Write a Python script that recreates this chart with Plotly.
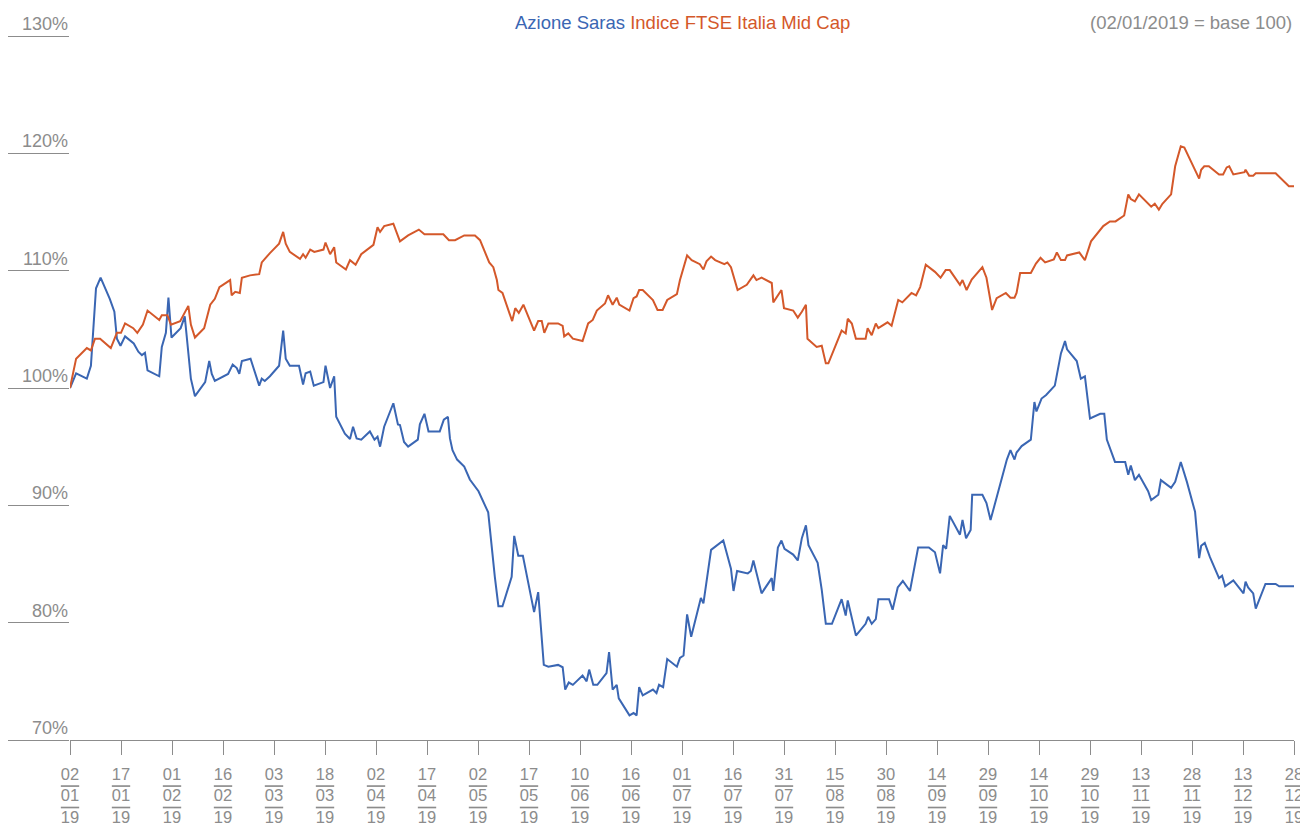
import plotly.graph_objects as go

# x is a session index: 10 sessions between two labelled ticks
TICK_DAYS = ["02", "17", "01", "16", "03", "18", "02", "17", "02", "17", "10", "16", "01",
             "16", "31", "15", "30", "14", "29", "14", "29", "13", "28", "13", "28"]
TICK_MONTHS = ["01", "01", "02", "02", "03", "03", "04", "04", "05", "05", "06", "06", "07",
               "07", "07", "08", "08", "09", "09", "10", "10", "11", "11", "12", "12"]
TICK_YEAR = "19"

Y_TICKS = [70, 80, 90, 100, 110, 120, 130]

# Azione Saras (base 100)
saras_x = [0, 1.2, 3.3, 4.1, 5.1, 6.0, 7.8, 8.7, 9.2, 9.9, 10.8, 12.5, 13.4, 14.1, 14.7, 15.2,
           17.5, 18.0, 18.8, 19.3, 19.9, 21.7, 22.5, 23.7, 24.5, 26.5, 27.3, 27.8, 28.4, 31.0,
           31.9, 32.7, 33.2, 33.7, 35.4, 37.1, 37.6, 38.2, 39.2, 41.0, 41.8, 42.3, 43.1, 44.9,
           45.7, 46.2, 47.1, 47.8, 49.7, 50.1, 51.0, 51.8, 52.2, 53.9, 54.9, 55.5, 56.2, 57.1,
           58.8, 59.7, 60.3, 60.8, 61.6, 63.4, 64.3, 64.7, 65.5, 66.3, 68.2, 68.6, 69.5, 70.3,
           72.5, 73.3, 74.1, 74.5, 75.0, 75.9, 77.3, 78.4, 80.1, 82.0, 83.3, 84.0, 84.8, 86.6,
           87.1, 87.9, 88.8, 91.0, 91.8, 92.9, 93.8, 95.7, 96.6, 97.1, 97.8, 98.6, 100.5, 101.3,
           101.8, 102.6, 103.4, 105.2, 105.7, 106.4, 107.2, 107.6, 109.7, 110.5, 111.1, 111.6,
           112.3, 114.3, 115.0, 115.5, 116.3, 117.1, 119.0, 119.6, 120.3, 121.0, 121.8, 123.7,
           124.2, 125.7, 128.1, 129.6, 130.1, 130.8, 132.9, 133.5, 134.0, 135.6, 137.6, 137.9,
           138.8, 139.5, 140.1, 141.8, 142.7, 143.5, 144.3, 144.8, 146.6, 147.4, 148.2, 149.4,
           151.3, 152.1, 152.5, 154.1, 156.0, 156.5, 157.2, 158.0, 158.5, 159.8, 160.6, 161.3,
           162.3, 163.3, 164.7, 166.3, 168.4, 169.6, 170.6, 171.2, 171.8, 172.5, 174.5, 175.0,
           175.7, 176.6, 176.9, 178.9, 179.7, 180.5, 183.7, 184.4, 185.2, 185.6, 186.6, 188.4,
           189.1, 189.5, 190.5, 191.4, 193.1, 194.3, 195.1, 195.5, 197.4, 198.2, 199.0, 200.0,
           202.0, 202.8, 203.3, 204.9, 206.9, 207.5, 208.0, 208.8, 209.6, 211.4, 212.0, 213.4,
           213.9, 215.9, 216.7, 217.8, 219.0, 220.6, 221.4, 221.8, 222.5, 223.5, 225.3, 225.9,
           226.5, 228.1, 230.1, 230.5, 231.0, 232.0, 232.5, 234.4, 236.4, 237.1, 240.0]
saras_y = [100.0, 101.25, 100.8, 101.9, 108.5, 109.4, 107.6, 106.5, 104.2, 103.6, 104.4, 103.8,
           103.1, 102.8, 103.0, 101.5, 101.0, 103.5, 104.7, 107.7, 104.3, 105.1, 106.1, 100.8,
           99.3, 100.5, 102.3, 101.2, 100.6, 101.2, 102.0, 101.7, 101.2, 102.3, 102.5, 100.2,
           100.8, 100.6, 101.0, 101.9, 104.9, 102.5, 101.9, 101.9, 100.3, 101.25, 101.4, 100.2,
           100.5, 101.9, 100.0, 101.0, 97.55, 96.1, 95.65, 96.7, 95.7, 95.6, 96.3, 95.6, 95.85,
           95.0, 96.7, 98.7, 96.9, 96.85, 95.4, 95.0, 95.6, 96.9, 97.8, 96.3, 96.3, 97.3, 97.55,
           95.7, 94.7, 93.9, 93.3, 92.2, 91.2, 89.4, 83.9, 81.4, 81.4, 83.9, 87.4, 85.7, 85.7,
           80.9, 82.6, 76.4, 76.25, 76.4, 76.2, 74.3, 74.9, 74.7, 75.5, 75.0, 76.0, 74.7, 74.7,
           75.7, 77.5, 74.3, 74.7, 73.55, 72.1, 72.3, 72.1, 74.5, 73.8, 74.3, 74.0, 74.7, 74.5,
           76.9, 76.25, 77.0, 77.2, 80.7, 78.8, 82.1, 81.65, 86.2, 87.0, 84.6, 82.7, 84.4, 84.2,
           84.4, 85.3, 82.5, 83.8, 82.7, 86.4, 87.0, 86.3, 85.8, 85.3, 87.2, 88.3, 86.6, 85.1,
           82.8, 79.9, 79.9, 82.0, 80.6, 81.9, 78.9, 79.9, 80.5, 79.9, 80.3, 82.0, 82.0, 82.0,
           81.1, 83.0, 83.55, 82.7, 86.4, 86.4, 86.0, 84.2, 86.6, 86.3, 89.1, 87.5, 88.75, 87.2,
           87.9, 90.9, 90.9, 90.2, 88.75, 93.9, 94.7, 93.9, 94.5, 95.05, 95.6, 98.8, 98.0, 99.1,
           99.4, 100.2, 102.95, 104.0, 103.3, 102.3, 100.8, 101.0, 97.4, 97.8, 97.8, 95.6, 93.7,
           93.7, 92.6, 93.4, 92.15, 92.6, 91.2, 90.45, 90.9, 92.15, 91.5, 92.0, 93.7, 92.0, 89.45,
           85.5, 86.55, 86.8, 85.6, 83.8, 84.0, 83.1, 83.6, 82.5, 83.5, 83.0, 82.5, 81.2, 83.3,
           83.3, 83.1, 83.1]

# Indice FTSE Italia Mid Cap (base 100)
ftse_x = [0, 1.2, 3.3, 4.1, 4.9, 5.9, 8.0, 9.2, 10.0, 10.8, 12.4, 13.2, 14.3, 15.2, 17.5, 18.0,
          19.1, 19.8, 21.6, 23.2, 23.7, 24.5, 26.3, 27.5, 28.4, 29.3, 31.4, 31.7, 32.4, 33.3,
          33.7, 35.3, 37.1, 37.6, 39.2, 41.0, 41.8, 42.3, 43.1, 45.1, 45.7, 46.2, 47.1, 47.9,
          49.7, 50.1, 51.0, 51.8, 52.2, 54.1, 54.9, 56.0, 57.1, 59.5, 60.3, 60.8, 61.6, 63.4,
          64.7, 66.3, 68.4, 69.5, 73.2, 74.3, 75.5, 77.3, 79.4, 80.4, 82.2, 83.0, 83.7, 84.0,
          84.8, 86.7, 87.3, 88.0, 88.9, 91.0, 91.8, 92.5, 93.0, 93.8, 95.7, 96.6, 96.9, 97.7,
          98.6, 100.5, 101.6, 102.5, 103.3, 104.9, 105.5, 106.4, 107.2, 107.7, 109.7, 110.5,
          111.1, 111.6, 112.3, 114.3, 115.2, 116.2, 117.1, 119.0, 119.6, 121.0, 121.9, 123.5,
          124.2, 124.8, 125.7, 126.5, 128.3, 128.9, 129.6, 130.3, 130.9, 132.7, 133.3, 134.0,
          134.6, 135.6, 137.6, 137.9, 139.5, 140.0, 141.8, 142.7, 143.5, 144.3, 144.6, 146.4,
          147.4, 148.2, 148.7, 151.3, 152.1, 152.5, 153.3, 154.1, 156.0, 156.4, 157.2, 158.0,
          158.5, 160.3, 161.1, 162.4, 163.2, 165.0, 165.9, 166.7, 167.8, 169.6, 170.7, 171.7,
          172.5, 174.5, 175.0, 175.8, 176.8, 178.9, 179.7, 180.5, 180.8, 181.7, 183.5, 184.4,
          185.2, 185.6, 186.3, 188.4, 189.4, 190.3, 191.2, 192.9, 193.5, 194.3, 195.1, 195.5,
          197.9, 199.0, 200.2, 202.6, 203.9, 205.0, 206.7, 207.5, 208.0, 208.8, 209.6, 212.0,
          212.7, 213.5, 214.2, 215.9, 216.7, 217.8, 218.5, 221.4, 221.8, 222.4, 223.3, 225.3,
          226.1, 226.8, 227.3, 228.1, 230.3, 230.5, 231.2, 232.0, 232.5, 236.4, 239.0, 240.0]
ftse_y = [100.0, 102.5, 103.4, 103.2, 104.2, 104.2, 103.4, 104.7, 104.7, 105.5, 105.1, 104.7,
          105.4, 106.6, 105.8, 106.2, 106.2, 105.4, 105.7, 107.0, 105.4, 104.3, 105.1, 107.1,
          107.6, 108.6, 109.2, 107.9, 108.2, 108.1, 109.4, 109.6, 109.7, 110.7, 111.5, 112.3,
          113.3, 112.3, 111.6, 111.0, 111.4, 111.1, 111.8, 111.6, 111.8, 112.4, 111.4, 112.0,
          110.7, 110.1, 110.9, 110.5, 111.4, 112.2, 113.7, 113.3, 113.8, 114.0, 112.5, 113.0,
          113.5, 113.1, 113.1, 112.6, 112.6, 113.0, 113.0, 112.6, 110.7, 110.3, 109.2, 108.35,
          108.1, 105.7, 106.8, 106.4, 107.1, 104.9, 105.7, 105.7, 104.7, 105.5, 105.5, 105.3,
          104.4, 104.65, 104.2, 104.0, 105.5, 105.8, 106.6, 107.2, 107.9, 107.1, 107.7, 107.1,
          106.6, 107.65, 107.8, 108.35, 108.35, 107.5, 106.65, 106.65, 107.5, 108.0, 109.2,
          111.3, 110.9, 110.55, 110.1, 110.8, 111.2, 110.9, 110.55, 110.7, 110.3, 109.25, 108.35,
          108.8, 109.15, 109.6, 109.2, 109.4, 108.95, 107.3, 108.35, 106.8, 106.6, 106.0, 106.5,
          107.1, 104.2, 103.5, 103.6, 102.1, 102.1, 104.9, 104.65, 105.9, 105.5, 104.2, 104.2,
          105.1, 104.5, 105.5, 105.1, 105.6, 105.3, 107.5, 107.3, 108.1, 107.9, 108.6, 110.5,
          109.9, 109.4, 110.05, 110.05, 108.8, 109.2, 108.35, 109.25, 110.3, 109.4, 107.1,
          106.65, 107.65, 108.1, 107.7, 107.7, 108.1, 109.8, 109.8, 110.6, 111.1, 110.7, 110.95,
          111.55, 110.9, 110.9, 111.3, 111.55, 110.9, 112.5, 113.8, 114.2, 114.2, 114.7, 116.5,
          116.1, 115.9, 116.5, 115.45, 115.7, 115.2, 115.7, 116.5, 118.9, 120.6, 120.5, 117.85,
          118.6, 118.9, 118.9, 118.2, 118.2, 118.8, 118.9, 118.2, 118.4, 118.6, 118.1, 118.1,
          118.3, 118.3, 117.2, 117.2]

BLUE = "#3a66b3"
ORANGE = "#d4582a"
GREY = "#8c8c8c"
FONT = "Liberation Sans, Arial, sans-serif"

fig = go.Figure()
fig.add_trace(go.Scatter(x=saras_x, y=saras_y, mode="lines", name="Azione Saras",
                         line=dict(color=BLUE, width=2)))
fig.add_trace(go.Scatter(x=ftse_x, y=ftse_y, mode="lines", name="Indice FTSE Italia Mid Cap",
                         line=dict(color=ORANGE, width=2)))

ov = "<span style='text-decoration:overline'>{}</span>"
tick_text = [d + "<br>" + ov.format(m) + "<br>" + ov.format(TICK_YEAR)
             for d, m in zip(TICK_DAYS, TICK_MONTHS)]

fig.update_xaxes(range=[0, 240], tickvals=[i * 10 for i in range(len(TICK_DAYS))],
                 ticktext=tick_text, showgrid=False, zeroline=False, automargin=False,
                 showline=True, linecolor=GREY, linewidth=1,
                 ticks="outside", ticklen=14, tickcolor=GREY, tickwidth=1,
                 ticklabelstandoff=5,
                 tickfont=dict(size=16.5, color=GREY, family=FONT), tickangle=0)
fig.update_yaxes(range=[70, 130], tickvals=Y_TICKS, showticklabels=False,
                 showgrid=False, zeroline=False, automargin=False,
                 ticks="outside", ticklen=62, tickcolor=GREY, tickwidth=1)

# y labels sit above their tick line
for v in Y_TICKS:
    fig.add_annotation(x=0, xref="paper", y=v, yref="y", text=f"{v}%", showarrow=False,
                       xanchor="right", yanchor="bottom", xshift=0, yshift=0,
                       font=dict(size=18, color=GREY, family=FONT))

fig.add_annotation(x=0.5, xref="paper", y=1, yref="paper", yshift=14, showarrow=False,
                   yanchor="middle",
                   text=f"<span style='color:{BLUE}'>Azione Saras</span> "
                        f"<span style='color:{ORANGE}'>Indice FTSE Italia Mid Cap</span>",
                   font=dict(size=18.5, family=FONT))
fig.add_annotation(x=1, xref="paper", y=1, yref="paper", yshift=14, showarrow=False,
                   xanchor="right", yanchor="middle", text="(02/01/2019 = base 100)",
                   font=dict(size=18.5, color=GREY, family=FONT))

# the page body adds an 8px margin, so the figure is 8px smaller on each axis
fig.update_layout(width=1300, height=821, showlegend=False,
                  plot_bgcolor="white", paper_bgcolor="white",
                  margin=dict(l=62, r=14, t=28, b=89))

fig.write_html("out.html")
